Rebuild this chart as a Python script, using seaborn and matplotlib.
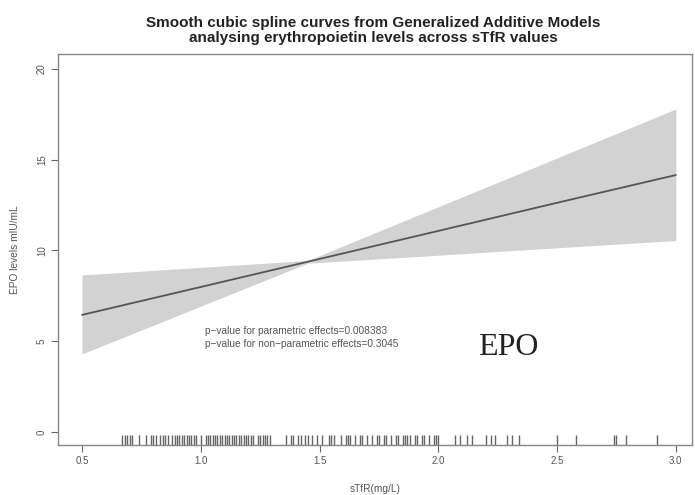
import numpy as np
import pandas as pd
import matplotlib
matplotlib.use("Agg")
import matplotlib.pyplot as plt
import seaborn as sns

# GAM smooth for EPO against sTfR: fitted curve with its confidence band
stfr_grid = [0.5, 1.0, 1.45, 2.0, 2.5, 3.0]
epo_fit = [6.45, 7.99, 9.38, 11.08, 12.63, 14.16]
epo_lower = [4.30, 6.93, 9.30, 9.74, 10.15, 10.55]
epo_upper = [8.65, 9.07, 9.45, 12.41, 15.10, 17.80]

# Observed sTfR values shown as a rug along the x axis
stfr_obs = [
    0.67, 0.68, 0.69, 0.70, 0.71, 0.74, 0.77, 0.79, 0.80, 0.81, 0.83, 0.84,
    0.85, 0.86, 0.88, 0.89, 0.90, 0.91, 0.92, 0.93, 0.94, 0.95, 0.96, 0.97,
    0.98, 1.00, 1.02, 1.03, 1.04, 1.05, 1.06, 1.07, 1.08, 1.09, 1.10, 1.11,
    1.12, 1.13, 1.14, 1.15, 1.16, 1.17, 1.18, 1.19, 1.20, 1.21, 1.22, 1.24,
    1.25, 1.26, 1.27, 1.28, 1.29, 1.36, 1.38, 1.39, 1.41, 1.42, 1.44, 1.45,
    1.47, 1.49, 1.51, 1.54, 1.55, 1.56, 1.59, 1.61, 1.62, 1.63, 1.65, 1.67,
    1.68, 1.70, 1.72, 1.74, 1.75, 1.77, 1.78, 1.80, 1.82, 1.83, 1.85, 1.86,
    1.87, 1.88, 1.90, 1.91, 1.93, 1.94, 1.96, 1.98, 1.99, 2.00, 2.07, 2.09,
    2.12, 2.14, 2.20, 2.22, 2.24, 2.29, 2.31, 2.34, 2.50, 2.58, 2.74, 2.75,
    2.79, 2.92,
]

x_ticks = [0.5, 1.0, 1.5, 2.0, 2.5, 3.0]
x_tick_labels = ["0.5", "1.0", "1.5", "2.0", "2.5", "3.0"]
y_ticks = [0, 5, 10, 15, 20]
y_tick_labels = ["0", "5", "10", "15", "20"]

title = ("Smooth cubic spline curves from Generalized Additive Models\n"
         "analysing erythropoietin levels across sTfR values")
p_text = ("p\u2212value for parametric effects=0.008383\n"
          "p\u2212value for non\u2212parametric effects=0.3045")

sns.set_theme(style="white")
plt.rcParams["font.family"] = ["Liberation Sans", "DejaVu Sans"]

curve = pd.DataFrame({"sTfR": stfr_grid, "EPO": epo_fit,
                      "lo": epo_lower, "hi": epo_upper})

fig = plt.figure(figsize=(6.95, 4.95), dpi=100)
ax = fig.add_axes([58 / 695, 1 - 445 / 495, (692 - 58) / 695, (445 - 54) / 495])

ax.fill_between(curve["sTfR"], curve["lo"], curve["hi"],
                color="#d2d2d2", linewidth=0, zorder=1)
sns.lineplot(data=curve, x="sTfR", y="EPO", ax=ax, color="#555555",
             linewidth=1.3, zorder=3)
sns.rugplot(x=stfr_obs, ax=ax, height=0.026, color="#4a4a4a",
            linewidth=1.0, alpha=0.85)

ax.set_xlim(0.399, 3.068)
ax.set_ylim(-0.72, 20.83)

ax.set_xticks(x_ticks)
ax.set_xticklabels(x_tick_labels)
ax.set_yticks(y_ticks)
ax.set_yticklabels(y_tick_labels, rotation=90, va="center")
ax.tick_params(axis="both", direction="out", length=5, width=0.8,
               colors="#666666", labelsize=7, labelcolor="#555555",
               bottom=True, left=True, pad=3)
ax.tick_params(axis="y", pad=3)

for s in ax.spines.values():
    s.set_color("#888888")
    s.set_linewidth(1.0)

ax.set_xlabel("sTfR(mg/L)", fontsize=7.3, color="#555555", labelpad=13)
ax.set_ylabel("EPO levels mIU/mL", fontsize=7.3, color="#555555", labelpad=12)

fig.text(0.537, 0.909, title, ha="center", va="bottom", fontsize=11,
         fontweight="bold", color="#222222", linespacing=1.1)

ax.text(1.018, 5.2, p_text, fontsize=7.3, color="#555555", va="center",
        ha="left", linespacing=1.3)
ax.text(2.294, 4.63, "EPO", fontsize=23, color="#222222",
        family=["Liberation Serif", "DejaVu Serif"], ha="center", va="center")

fig.savefig("out.png", dpi=100)
